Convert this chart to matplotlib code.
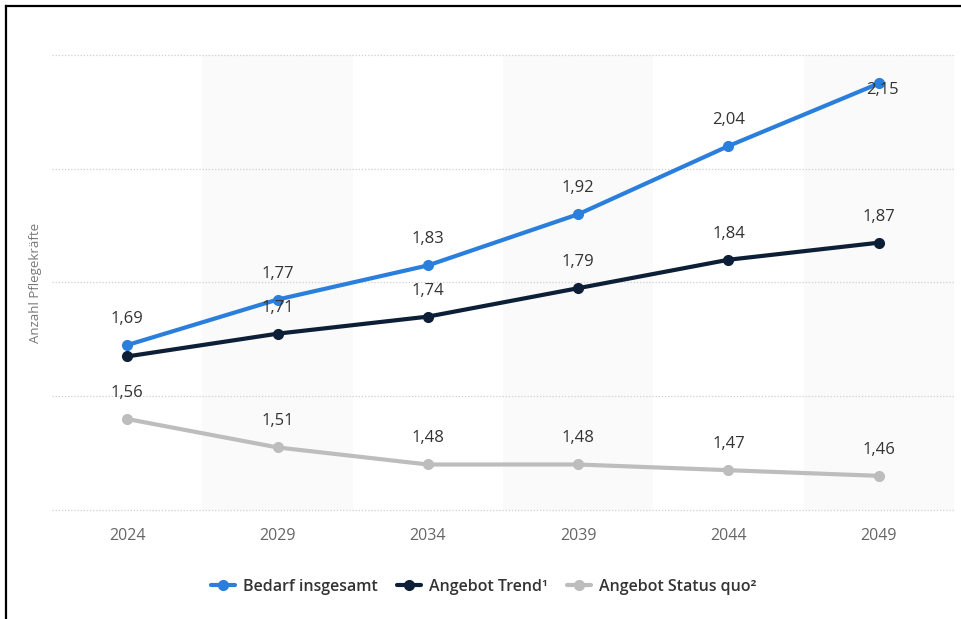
import matplotlib
matplotlib.use("Agg")
import matplotlib.pyplot as plt
from matplotlib.lines import Line2D

years = ["2024", "2029", "2034", "2039", "2044", "2049"]
bedarf = [1.69, 1.77, 1.83, 1.92, 2.04, 2.15]
trend = [1.67, 1.71, 1.74, 1.79, 1.84, 1.87]
status_quo = [1.56, 1.51, 1.48, 1.48, 1.47, 1.46]
bedarf_labels = ["1,69", "1,77", "1,83", "1,92", "2,04", "2,15"]
trend_labels = [None, "1,71", "1,74", "1,79", "1,84", "1,87"]
status_labels = ["1,56", "1,51", "1,48", "1,48", "1,47", "1,46"]
series_names = ["Bedarf insgesamt", "Angebot Trend\u00b9", "Angebot Status quo\u00b2"]

plt.rcParams['font.family'] = ['Open Sans', 'DejaVu Sans']

W, H = 961, 619
fig = plt.figure(figsize=(W / 100, H / 100), dpi=100)
ax = fig.add_axes([52 / W, 1 - 510 / H, (954 - 52) / W, (510 - 55) / H])

x = list(range(len(years)))
ax.set_xlim(-0.5, len(years) - 0.5)
ax.set_ylim(1.4, 2.2)

for i in x:
    if i % 2 == 1:
        ax.axvspan(i - 0.5, i + 0.5, color="#fafafa", zorder=0, lw=0)

for yv in [1.4, 1.6, 1.8, 2.0, 2.2]:
    ax.axhline(yv, color="#cfcfcf", lw=0.9, ls=(0, (1, 1.5)), zorder=1, clip_on=False)

colors = ["#2b7fdc", "#0d1f36", "#bdbdbd"]
datas = [bedarf, trend, status_quo]
labels = [bedarf_labels, trend_labels, status_labels]
handles = []
for d, c, n in zip(datas, colors, series_names):
    h, = ax.plot(x, d, color=c, lw=3.0, marker="o", ms=7, zorder=3, label=n,
                 solid_capstyle="round", clip_on=False)
    handles.append(h)

px = 0.72  # points per pixel
for d, lab in zip(datas, labels):
    for i, (v, t) in enumerate(zip(d, lab)):
        if t is None:
            continue
        off = (0, 26 * px)
        if t == "2,15":
            off = (4 * px, -7 * px)
        ax.annotate(t, (i, v), xytext=off, textcoords="offset points",
                    ha="center", va="center", fontsize=12, color="#333333", zorder=5)

ax.set_xticks(x)
ax.set_xticklabels(years, fontsize=11.5, color="#666666")
ax.tick_params(axis="x", length=0, pad=13)
ax.set_yticks([])
for s in ax.spines.values():
    s.set_visible(False)
ax.set_facecolor("none")

fig.text(35 / W, 1 - 283 / H, "Anzahl Pflegekräfte", rotation=90, ha="center", va="center",
         fontsize=9.5, color="#777777")

leg = fig.legend(handles=handles, loc="center", bbox_to_anchor=(484 / W, 1 - 587 / H),
                 ncol=3, frameon=False, handlelength=1.5, columnspacing=1.2, handletextpad=0.5,
                 prop={"size": 11.5, "weight": "semibold"})
for t in leg.get_texts():
    t.set_color("#333333")
for lh in leg.legend_handles:
    lh.set_markersize(7)
    lh.set_linewidth(3.0)

fig.add_artist(Line2D([5.5 / W, 5.5 / W], [0, 1 - 6 / H], color="black", lw=1.6))
fig.add_artist(Line2D([5.5 / W, 1], [1 - 6 / H, 1 - 6 / H], color="black", lw=1.6))

fig.savefig("out.png", dpi=100, facecolor="white")
